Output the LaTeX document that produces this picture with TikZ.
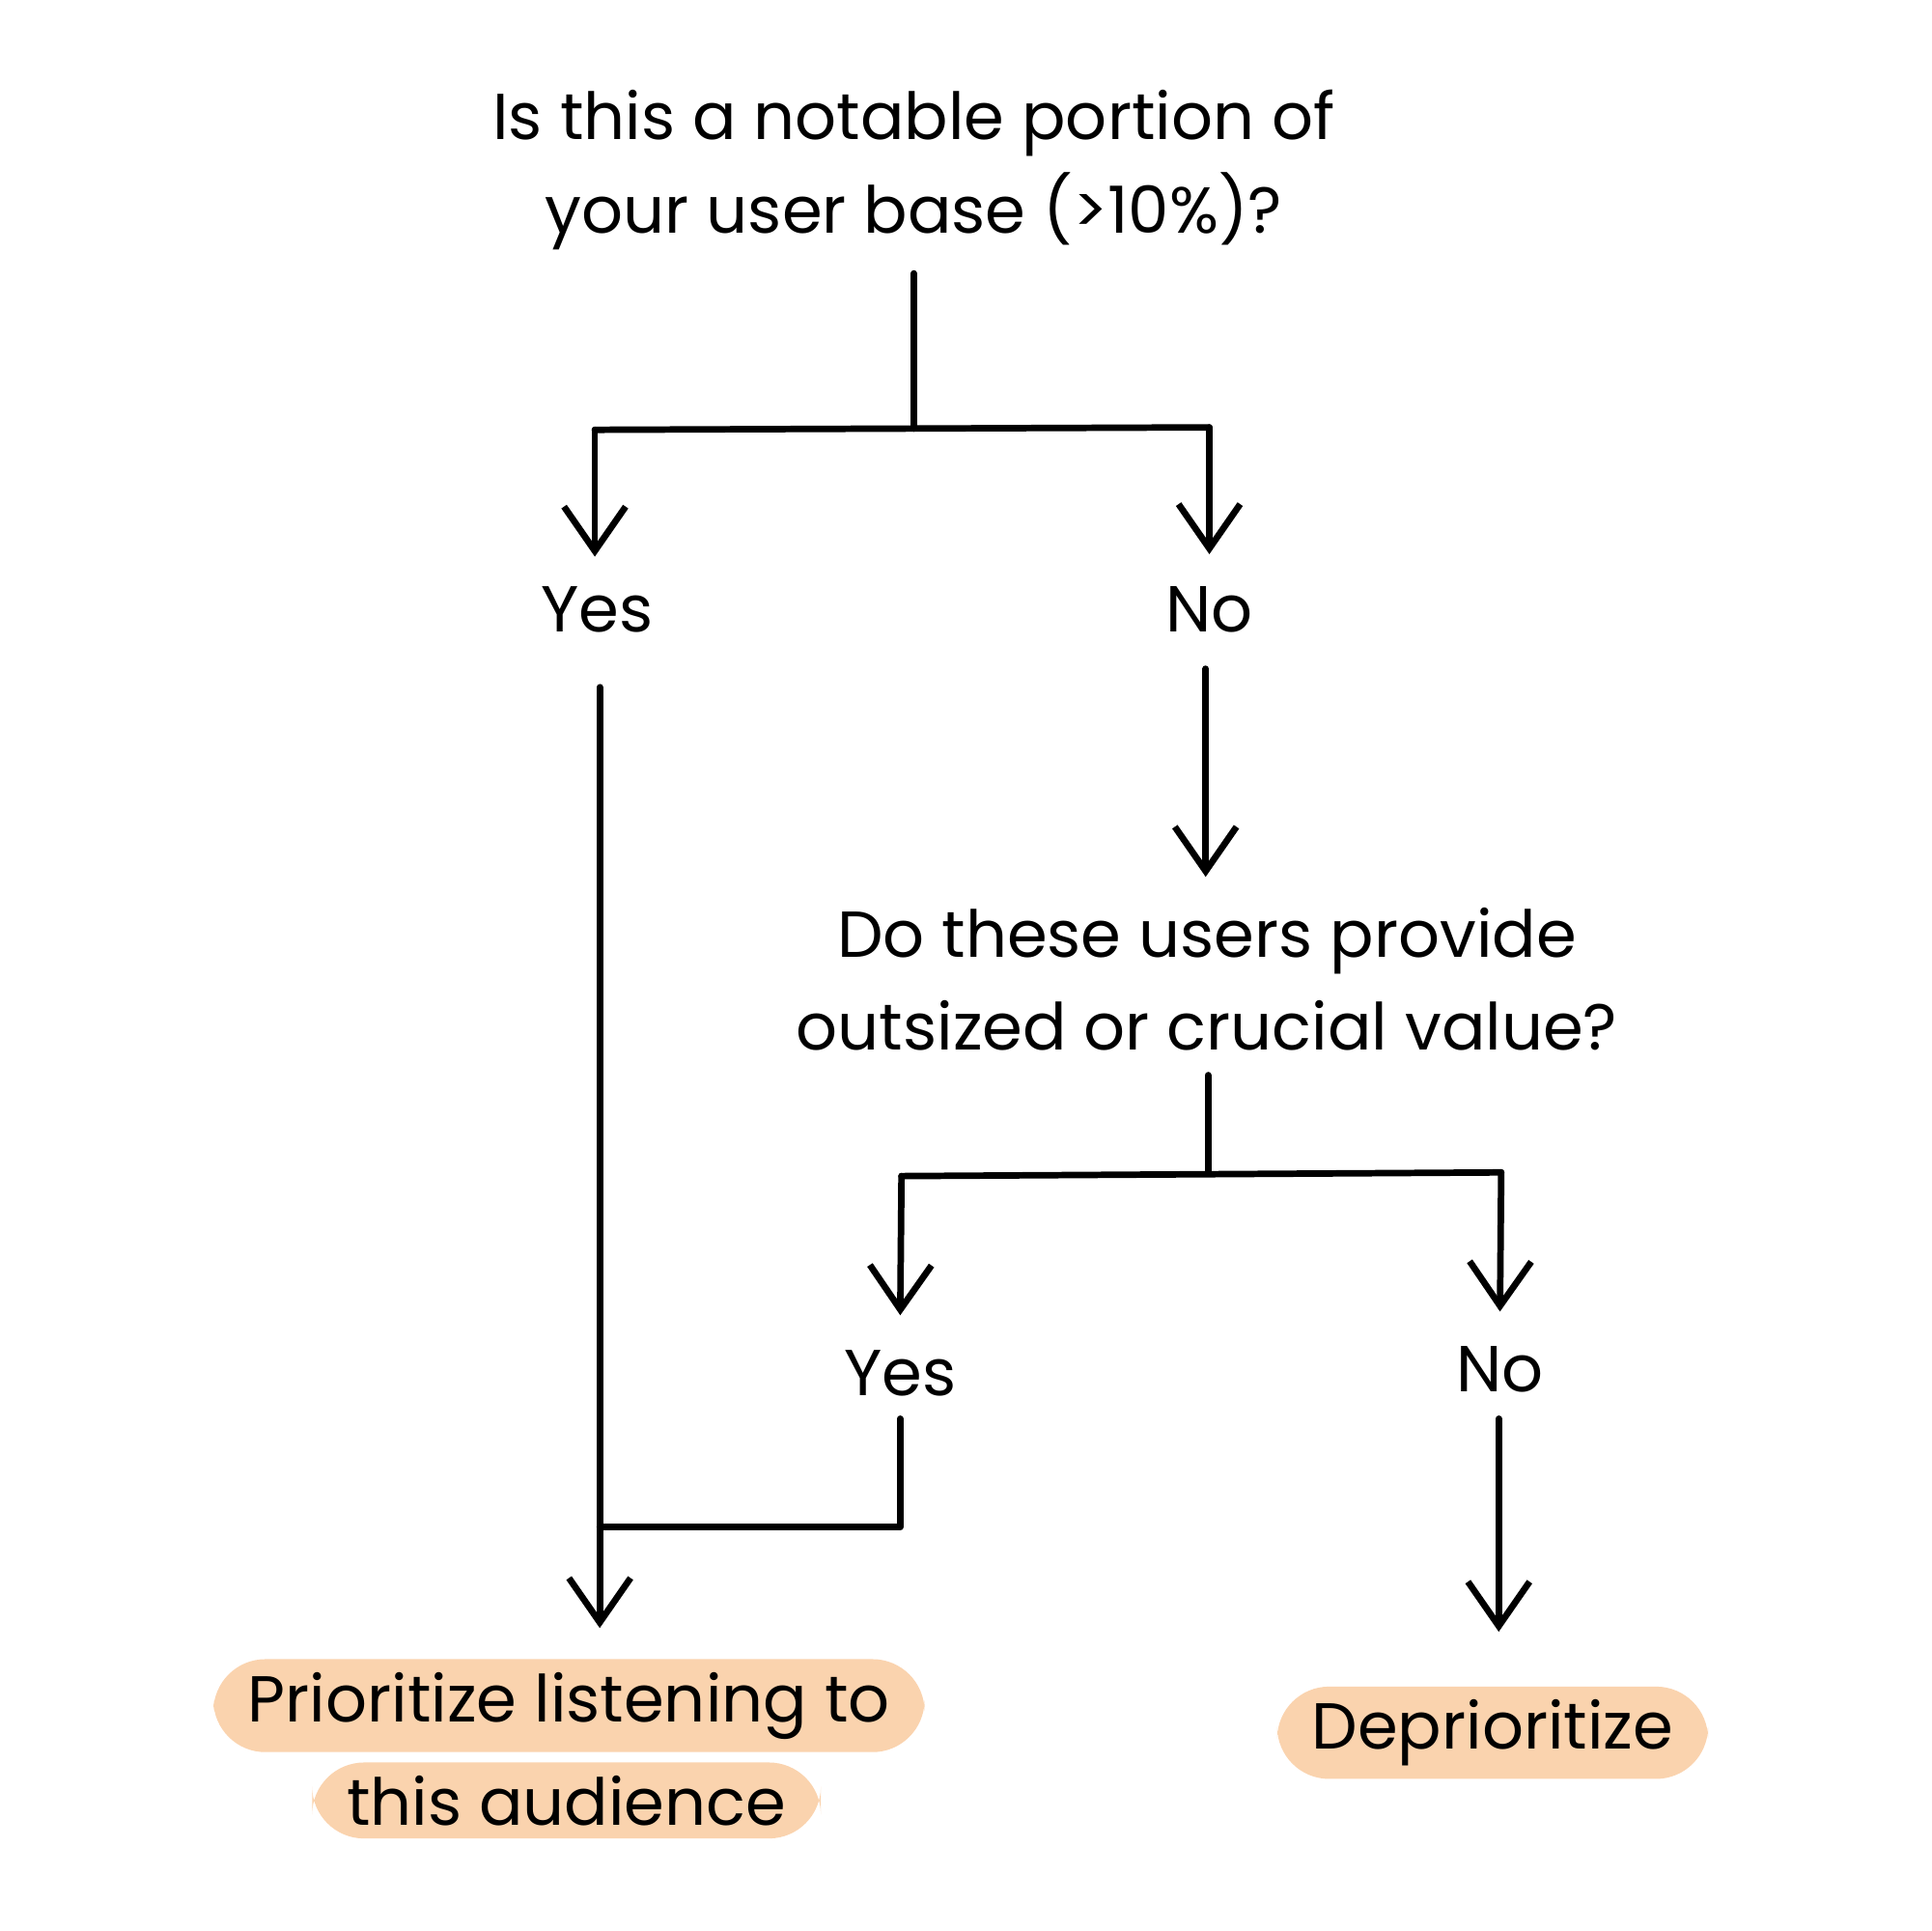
\documentclass[tikz,border=0pt]{standalone}
\usepackage{fontspec}
\setmainfont{Poppins}
\usetikzlibrary{arrows.meta}
\definecolor{hl}{HTML}{FAD3AE}
\begin{document}
\begin{tikzpicture}[x=0.01cm,y=-0.01cm,
  ln/.style={line width=1.5pt,line cap=round,line join=round},
  arr/.style={ln,-{Straight Barb[length=3.6mm,width=5mm,line width=1.5pt]}},
  lbl/.style={font=\fontsize{15}{21.5}\selectfont,align=center,inner sep=0pt},
  hlbox/.style={fill=hl,rounded corners=12pt,inner xsep=8pt,inner ysep=3pt}]
\useasboundingbox (0,0) rectangle (1568,1568);
\node[lbl] (q1) at (742,138) {Is this a notable portion of\\your user base (>10\%)?};
\coordinate (q1b) at (742,222);
\coordinate (s1) at (742,348);
\coordinate (l1) at (483,349);
\coordinate (r1) at (982,347);
\coordinate (y1t) at (483,452);
\coordinate (n1t) at (982,450);
\node[lbl] (y1) at (485,495) {Yes};
\node[lbl] (n1) at (982,495) {No};
\coordinate (y1b) at (487,558);
\coordinate (n1b) at (979,543);
\coordinate (q2t) at (979,712);
\node[lbl] (q2) at (980,795) {Do these users provide\\outsized or crucial value?};
\coordinate (q2b) at (981,873);
\coordinate (s2) at (981,953);
\coordinate (l2) at (732,955);
\coordinate (r2) at (1219,952);
\coordinate (y2t) at (731,1068);
\coordinate (n2t) at (1218,1065);
\node[lbl] (y2) at (731,1115) {Yes};
\node[lbl] (n2) at (1218,1112) {No};
\coordinate (y2b) at (731,1152);
\coordinate (y2c) at (731,1240);
\coordinate (j) at (487,1240);
\coordinate (pt) at (487,1322);
\coordinate (n2b) at (1217,1152);
\coordinate (dt) at (1217,1325);
\node[lbl,hlbox,anchor=center] (p1) at (462,1385) {Prioritize listening to};
\node[lbl,hlbox] (p2) at (460,1462) {this audience};
\node[lbl,hlbox] (d) at (1212,1407) {Deprioritize};
\draw[ln] (q1b) -- (s1);
\draw[ln] (l1) -- (r1);
\draw[arr] (l1) -- (y1t);
\draw[arr] (r1) -- (n1t);
\draw[arr] (y1b) -- (pt);
\draw[arr] (n1b) -- (q2t);
\draw[ln] (q2b) -- (s2);
\draw[ln] (l2) -- (r2);
\draw[arr] (l2) -- (y2t);
\draw[arr] (r2) -- (n2t);
\draw[ln] (y2b) -- (y2c) -- (j);
\draw[arr] (n2b) -- (dt);
\end{tikzpicture}
\end{document}
